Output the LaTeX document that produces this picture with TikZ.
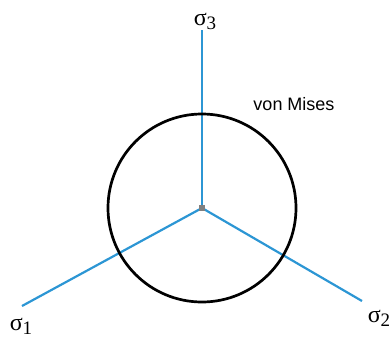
\documentclass[tikz,border=0pt]{standalone}
\usepackage{fontspec}
\setmainfont{Liberation Serif}
\setsansfont{Liberation Sans}
\definecolor{bleuaxe}{RGB}{44,150,212}
\newcommand{\sig}[1]{{\fontsize{24}{24}\selectfont σ}\raisebox{-4pt}{\fontsize{19}{19}\selectfont #1}}
\begin{document}
\begin{tikzpicture}[x=1pt, y=-1pt,
  axe/.style={bleuaxe, line width=2.2pt},
  critere/.style={black, line width=2.7pt}]

% Paramètres
\def\r{94pt}
\useasboundingbox (0,0) rectangle (390,340);

% Axes
\coordinate (o) at (202,208);
\coordinate (s3) at (202,30);
\coordinate (s1) at (22,306);
\coordinate (s2) at (362,301);
\draw[axe] (o) -- (s3);
\draw[axe] (o) -- (s1);
\draw[axe] (o) -- (s2);

% Critère (cercle)
\draw[critere] (o) circle (\r);
\fill[gray] (o) ++(-3,-3) rectangle ++(6,6);

\node (l3) at (205,21) {\sig{3}};
\node (l1) at (21,326) {\sig{1}};
\node (l2) at (379,318) {\sig{2}};
\node[font=\sffamily\fontsize{18}{18}\selectfont] (vm) at (294,104) {von Mises};

\end{tikzpicture}
\end{document}
